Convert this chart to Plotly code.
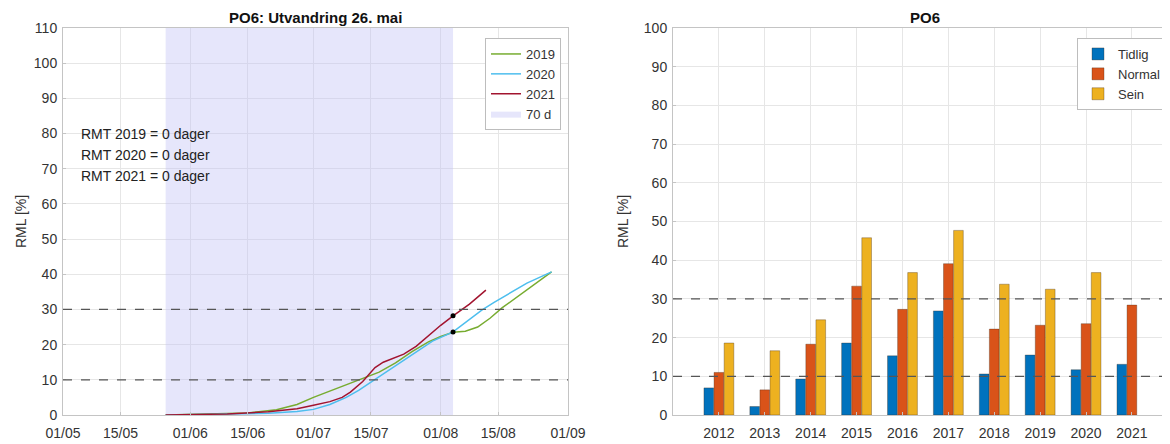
import plotly.graph_objects as go

YEAR = "2021"

# ---- Left chart data (RML curves) ----
d2019 = ["05-26","06-05","06-15","06-22","06-27","07-01","07-05","07-09","07-13","07-17","07-21","07-25","07-29","08-01","08-04","08-07","08-10","08-13","08-16","08-19","08-22","08-25","08-28"]
v2019 = [0,0.2,0.6,1.5,3.0,5.0,6.8,8.5,10.3,12.2,14.8,18.0,20.8,22.3,23.5,23.8,25.0,27.5,30.5,33.0,35.5,38.0,40.7]

d2020 = ["05-26","06-10","06-20","06-27","07-01","07-05","07-09","07-12","07-15","07-18","07-22","07-26","07-30","08-04","08-08","08-11","08-14","08-18","08-22","08-28"]
v2020 = [0,0.2,0.5,1.0,1.6,3.0,5.0,7.0,9.3,11.8,14.8,17.8,21.0,23.6,27.0,29.8,32.0,34.8,37.5,40.7]

d2021 = ["05-26","06-10","06-20","06-27","07-01","07-05","07-08","07-10","07-13","07-16","07-18","07-21","07-23","07-26","07-29","08-01","08-04","08-08","08-12"]
v2021 = [0,0.3,0.9,1.8,2.8,3.8,5.0,6.5,9.5,13.5,15.0,16.3,17.3,19.5,22.5,25.5,28.2,31.5,35.5]

marker_dates = ["08-04", "08-04"]
marker_vals = [28.2, 23.6]

window_start = "05-26"
window_end = "08-04"
window_label = "70 d"

rmt_labels = ["RMT 2019 = 0 dager", "RMT 2020 = 0 dager", "RMT 2021 = 0 dager"]
rmt_y = [80, 74, 68]

left_ticks = ["05-01","05-15","06-01","06-15","07-01","07-15","08-01","08-15","09-01"]
thresholds = [10, 30]

# ---- Right chart data (bars) ----
years = [2012,2013,2014,2015,2016,2017,2018,2019,2020,2021]
tidlig = [7.0,2.2,9.3,18.6,15.3,26.9,10.6,15.5,11.7,13.1]
normal = [11.0,6.5,18.3,33.3,27.3,39.1,22.2,23.2,23.6,28.4]
sein = [18.6,16.6,24.6,45.8,36.8,47.7,33.8,32.5,36.8,None]


def dt(s):
    return f"{YEAR}-{s}"


W, H = 1162, 436
OFF = 8  # page body margin


def px(xpage):
    return (xpage - OFF) / W


def py(ypage):
    return (415 - ypage) / 387


FONT = "Liberation Sans, Arial, sans-serif"
GRID = "#e6e6e6"
AXL = "#c4c4c4"
TXT = "#333333"

fig = go.Figure()

# shaded window
fig.add_trace(go.Scatter(
    x=[dt(window_start), dt(window_end), dt(window_end), dt(window_start), dt(window_start)],
    y=[0, 0, 110, 110, 0], fill="toself", mode="lines",
    line=dict(width=0), fillcolor="rgba(196,196,245,0.42)",
    name=window_label, legend="legend", legendrank=4, hoverinfo="skip"))

for d, v, name, col, rk in [(d2019, v2019, "2019", "#77AC30", 1),
                            (d2020, v2020, "2020", "#4DBEEE", 2),
                            (d2021, v2021, "2021", "#A2142F", 3)]:
    fig.add_trace(go.Scatter(x=[dt(s) for s in d], y=v, mode="lines", name=name,
                             line=dict(color=col, width=1.5), legend="legend",
                             legendrank=rk))

fig.add_trace(go.Scatter(x=[dt(s) for s in marker_dates], y=marker_vals, mode="markers",
                         marker=dict(color="black", size=5), showlegend=False))

# bars
for vals, name, col in [(tidlig, "Tidlig", "#0072BD"), (normal, "Normal", "#D95319"),
                        (sein, "Sein", "#EDB120")]:
    fig.add_trace(go.Bar(x=years, y=vals, name=name,
                         marker=dict(color=col, line=dict(color="rgba(60,40,20,0.55)", width=0.6)),
                         xaxis="x2", yaxis="y2", legend="legend2"))

common_axis = dict(showgrid=True, gridcolor=GRID, gridwidth=1, showline=True, linecolor=AXL,
                   linewidth=1, ticks="inside", ticklen=3, tickcolor=AXL,
                   tickfont=dict(family=FONT, size=14, color=TXT), zeroline=False, automargin=False)

fig.update_layout(
    width=W, height=H,
    margin=dict(l=0, r=0, t=20, b=29),
    paper_bgcolor="white", plot_bgcolor="white",
    barmode="group", bargap=0.34, bargroupgap=0.04,
    font=dict(family=FONT, color=TXT),
    xaxis=dict(domain=[px(63), px(568)], type="date", range=[dt("05-01"), dt("09-01")],
               tickvals=[dt(s) for s in left_ticks], tickformat="%d/%m", mirror=True,
               ticklabelstandoff=5, **common_axis),
    yaxis=dict(domain=[0, 1], range=[0, 110], tickvals=list(range(0, 111, 10)), mirror=True,
               ticklabelstandoff=2, **common_axis),
    xaxis2=dict(domain=[px(673), 1.0], anchor="y2", range=[2011, 2021.83], tickvals=years,
                mirror=True, ticklabelstandoff=5, **common_axis),
    yaxis2=dict(domain=[0, 1], anchor="x2", range=[0, 100], tickvals=list(range(0, 101, 10)),
                mirror=False, ticklabelstandoff=2, **common_axis),
    legend=dict(x=px(561), xanchor="right", y=py(38), yanchor="top", bgcolor="white",
                bordercolor="#bdbdbd", borderwidth=1, font=dict(family=FONT, size=13, color=TXT),
                traceorder="normal", itemwidth=30, tracegroupgap=0),
    legend2=dict(x=px(1077), xanchor="left", y=py(38), yanchor="top", bgcolor="white",
                 bordercolor="#bdbdbd", borderwidth=1, font=dict(family=FONT, size=13, color=TXT),
                 itemwidth=30),
    showlegend=True,
)

# threshold dashed lines
for t in thresholds:
    fig.add_shape(type="line", xref="x domain", yref="y", x0=0, x1=1, y0=t, y1=t,
                  line=dict(color="#555555", width=1.2, dash="dash"))
    fig.add_shape(type="line", xref="x2 domain", yref="y2", x0=0, x1=1, y0=t, y1=t,
                  line=dict(color="#555555", width=1.2, dash="dash"))

# RMT texts
for lab, yv in zip(rmt_labels, rmt_y):
    fig.add_annotation(x=dt("05-05"), y=yv, xref="x", yref="y", text=lab, showarrow=False,
                       xanchor="left", font=dict(family=FONT, size=14, color="#222"))

# titles
fig.add_annotation(x=px(315), y=py(17), xref="paper", yref="paper", text="<b>PO6: Utvandring 26. mai</b>",
                   showarrow=False, xanchor="center", yanchor="middle",
                   font=dict(family=FONT, size=15, color="#111"))
fig.add_annotation(x=px(925), y=py(17), xref="paper", yref="paper", text="<b>PO6</b>",
                   showarrow=False, xanchor="center", yanchor="middle",
                   font=dict(family=FONT, size=15, color="#111"))
# y titles
for xp in [px(21), px(623)]:
    fig.add_annotation(x=xp, y=py(222), xref="paper", yref="paper", text="RML [%]", textangle=-90,
                       showarrow=False, xanchor="center", yanchor="middle",
                       font=dict(family=FONT, size=14, color=TXT))

fig.write_html("out.html")
